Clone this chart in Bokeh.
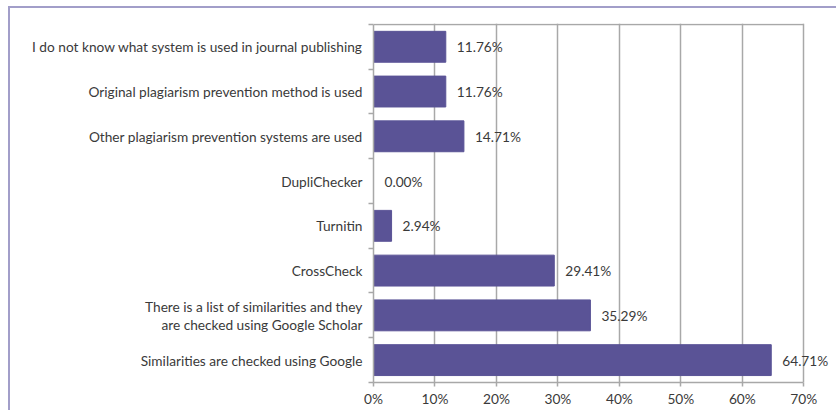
from bokeh.plotting import figure
from bokeh.models import ColumnDataSource, FixedTicker, PrintfTickFormatter, Range1d
from bokeh.core.properties import value
from bokeh.embed import file_html
from bokeh.resources import INLINE

categories = [
    "I do not know what system is used in journal publishing",
    "Original plagiarism prevention method is used",
    "Other plagiarism prevention systems are used",
    "DupliChecker",
    "Turnitin",
    "CrossCheck",
    "There is a list of similarities and they\nare checked using Google Scholar",
    "Similarities are checked using Google",
]
percent = [11.76, 11.76, 14.71, 0.00, 2.94, 29.41, 35.29, 64.71]
x_ticks = [0, 10, 20, 30, 40, 50, 60, 70]

n = len(categories)
ypos = [n - 1 - i + 0.5 for i in range(n)]
labels = ["%.2f%%" % v for v in percent]

src = ColumnDataSource(dict(y=ypos, v=percent, lab=labels))

FONT = "Lato"
TXT = "#3a3a3a"
FS = "13.7px"
GRID = "#a8a8a8"

p = figure(width=828, height=404, output_backend="svg", toolbar_location=None,
           x_range=Range1d(0, 75), y_range=Range1d(0, n + 0.02),
           min_border_left=363, min_border_right=4, min_border_top=15, min_border_bottom=30)
p.styles = {"margin-left": "8px", "margin-top": "6px",
            "border-top": "2px solid #a29ec9", "border-left": "2px solid #a29ec9"}

p.hbar(y="y", right="v", left=0, height=0.69, source=src,
       fill_color="#5a5396", line_color="#5a5396")
p.text(x="v", y="y", text="lab", source=src, x_offset=11,
       text_baseline="middle", text_align="left", text_color=TXT,
       text_font=value(FONT), text_font_size=FS)

# top border line of the plot area
p.segment(x0=[x_ticks[0]], x1=[x_ticks[-1]], y0=[n], y1=[n],
          line_color=GRID, line_width=1.5)

# x axis
p.xaxis.ticker = FixedTicker(ticks=x_ticks)
p.xaxis.bounds = (0, 70)
p.xaxis.formatter = PrintfTickFormatter(format="%d%%")
p.xaxis.major_label_text_font = FONT
p.xaxis.major_label_text_font_size = FS
p.xaxis.major_label_text_color = TXT
p.xaxis.axis_line_color = GRID
p.xaxis.axis_line_width = 1.5
p.xaxis.major_tick_line_color = GRID
p.xaxis.major_tick_line_width = 1.5
p.xaxis.major_tick_out = 4
p.xaxis.major_tick_in = 0
p.xaxis.minor_tick_line_color = None
p.xaxis.major_label_standoff = 3

# y axis
p.yaxis.ticker = FixedTicker(ticks=ypos, minor_ticks=list(range(n + 1)))
p.yaxis.bounds = (0, n)
p.yaxis.major_label_overrides = {ypos[i]: categories[i] for i in range(n)}
p.yaxis.major_label_text_font = FONT
p.yaxis.major_label_text_font_size = FS
p.yaxis.major_label_text_color = TXT
p.yaxis.major_label_text_align = "right"
p.yaxis.major_label_text_line_height = 1.05
p.yaxis.axis_line_color = GRID
p.yaxis.axis_line_width = 1.5
p.yaxis.major_tick_line_color = None
p.yaxis.major_tick_out = 0
p.yaxis.major_tick_in = 0
p.yaxis.minor_tick_line_color = GRID
p.yaxis.minor_tick_line_width = 1.5
p.yaxis.minor_tick_out = 5
p.yaxis.minor_tick_in = 0
p.yaxis.major_label_standoff = 6

p.xgrid.ticker = FixedTicker(ticks=x_ticks[1:])
p.xgrid.grid_line_color = GRID
p.xgrid.grid_line_width = 1.5
p.ygrid.grid_line_color = None
p.outline_line_color = None

open("out.html", "w").write(file_html(p, INLINE))
